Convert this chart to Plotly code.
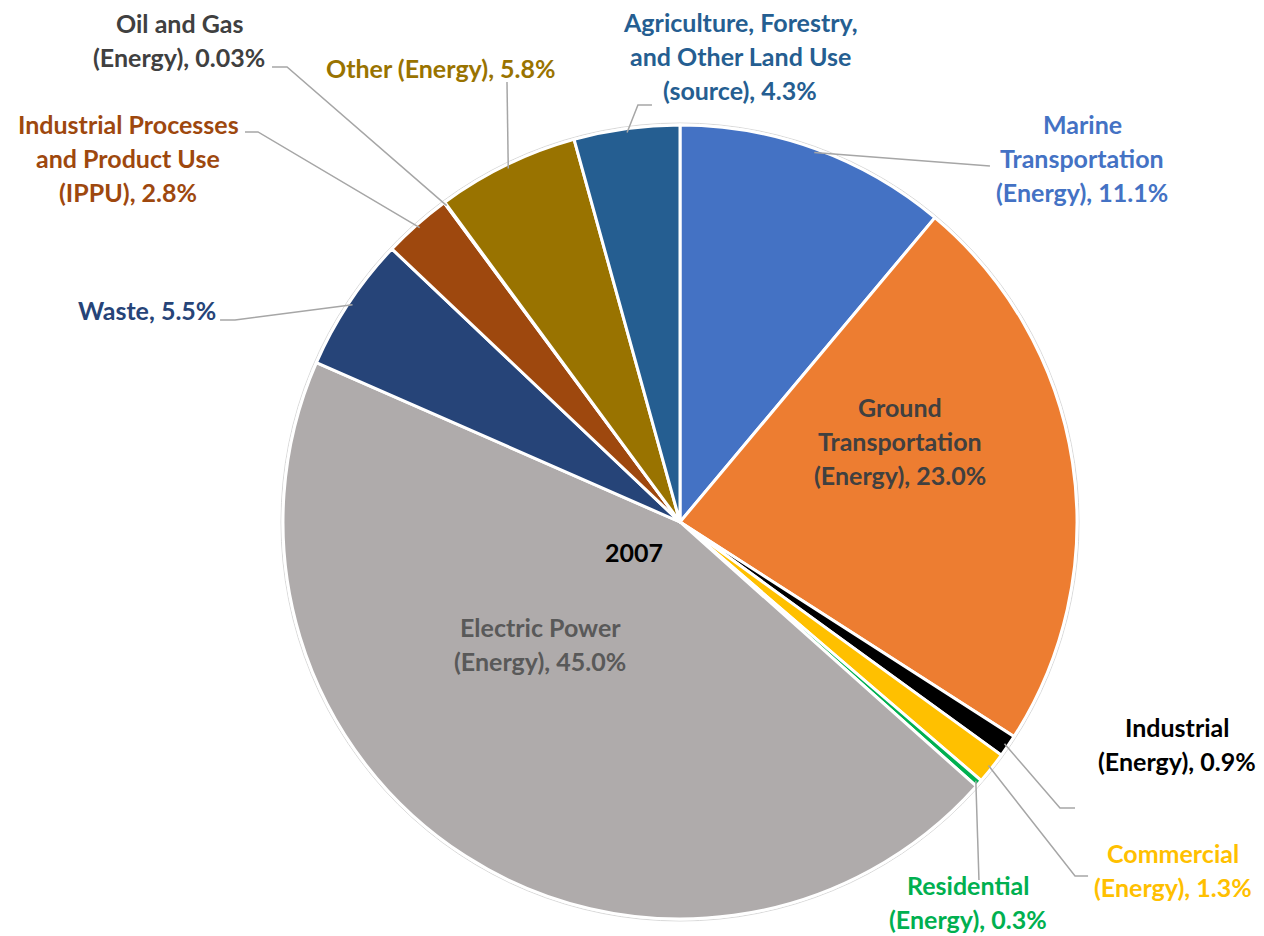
import math
import plotly.graph_objects as go

# data, clockwise from 12 o'clock
categories = ["Marine Transportation (Energy)", "Ground Transportation (Energy)",
              "Industrial (Energy)", "Commercial (Energy)", "Residential (Energy)",
              "Electric Power (Energy)", "Waste", "Industrial Processes and Product Use (IPPU)",
              "Oil and Gas (Energy)", "Other (Energy)",
              "Agriculture, Forestry, and Other Land Use (source)"]
values = [11.1, 23.0, 0.9, 1.3, 0.3, 45.0, 5.5, 2.8, 0.03, 5.8, 4.3]
pct_labels = ["11.1%", "23.0%", "0.9%", "1.3%", "0.3%", "45.0%", "5.5%", "2.8%",
              "0.03%", "5.8%", "4.3%"]
label_lines = [["Marine", "Transportation", "(Energy), "],
               ["Ground", "Transportation", "(Energy), "],
               ["Industrial", "(Energy), "],
               ["Commercial", "(Energy), "],
               ["Residential", "(Energy), "],
               ["Electric Power", "(Energy), "],
               ["Waste, "],
               ["Industrial Processes", "and Product Use", "(IPPU), "],
               ["Oil and Gas", "(Energy), "],
               ["Other (Energy), "],
               ["Agriculture, Forestry,", "and Other Land Use", "(source), "]]
year = "2007"

slice_colors = ["#4472C4", "#ED7D31", "#000000", "#FFC000", "#00B050", "#AFABAB",
                "#264478", "#9E480E", "#7F7F7F", "#997300", "#255E91"]
text_colors = ["#4472C4", "#404040", "#000000", "#FFC000", "#00B050", "#595959",
               "#264478", "#9E480E", "#404040", "#997300", "#255E91"]

W, H = 1264, 936
cx, cy, r = 680, 522, 397
LINE_H = 34
FONT = "Lato"
FSIZE = 25

# label placement (pixels from top-left): centre x, centre y, anchor
label_pos = [(1082, 158, "center"), (900, 441, "center"), (1177, 744, "center"),
             (1173, 870, "center"), (968, 902, "center"), (540, 644, "center"),
             (218, 310, "right"), (128, 158, "center"), (179, 40, "center"),
             (441, 68, "center"), (740, 56, "center")]
# leader line points after the slice edge (None = inside label)
leaders = [[(990, 166)], None, [(1060, 808), (1075, 808)], [(1075, 876), (1088, 876)],
           [(979, 880)], None, [(235, 320), (220, 320)], [(258, 132), (245, 132)],
           [(287, 67), (272, 67)], [(507, 82)], [(638, 105), (652, 105)]]


def px(x, y):
    return x / W, 1 - y / H


fig = go.Figure()
fig.add_trace(go.Pie(
    labels=categories, values=values, sort=False, direction="clockwise", rotation=0,
    marker=dict(colors=slice_colors, line=dict(color="white", width=3)),
    textinfo="none", hoverinfo="label+percent", showlegend=False,
    domain=dict(x=[(cx - r) / W, (cx + r) / W], y=[1 - (cy + r) / H, 1 - (cy - r) / H]),
))

shapes = [dict(type="circle", xref="paper", yref="paper",
               x0=(cx - r - 2) / W, x1=(cx + r + 2) / W,
               y0=1 - (cy + r + 2) / H, y1=1 - (cy - r - 2) / H,
               line=dict(color="#D9D9D9", width=1), layer="below")]
annotations = []
total = sum(values)
cum = 0
for i, v in enumerate(values):
    mid = (cum + v / 2) / total * 2 * math.pi
    cum += v
    ex = cx + 0.99 * r * math.sin(mid)
    ey = cy - 0.99 * r * math.cos(mid)
    if leaders[i]:
        pts = [(ex, ey)] + leaders[i]
        path = "M " + " L ".join("%.4f,%.4f" % px(x, y) for x, y in pts)
        shapes.append(dict(type="path", xref="paper", yref="paper", path=path,
                           line=dict(color="#A6A6A6", width=1.5)))
    lines = list(label_lines[i])
    lines[-1] = lines[-1] + pct_labels[i]
    lx, ly, anchor = label_pos[i]
    n = len(lines)
    for k, line in enumerate(lines):
        ax_, ay_ = px(lx, ly + (k - (n - 1) / 2) * LINE_H)
        annotations.append(dict(
            x=ax_, y=ay_, xref="paper", yref="paper", xanchor=anchor, yanchor="middle",
            text=line, showarrow=False,
            font=dict(family=FONT, size=FSIZE, color=text_colors[i], weight="bold")))

yx, yy = px(634, 552)
annotations.append(dict(x=yx, y=yy, xref="paper", yref="paper", text=year, showarrow=False,
                        font=dict(family=FONT, size=FSIZE, color="#000000", weight="bold")))

fig.update_layout(width=W, height=H, margin=dict(l=0, r=0, t=0, b=0),
                  paper_bgcolor="white", plot_bgcolor="white",
                  shapes=shapes, annotations=annotations)
fig.write_html("out.html", config={"displayModeBar": False},
               post_script="document.body.style.margin='0px';")
